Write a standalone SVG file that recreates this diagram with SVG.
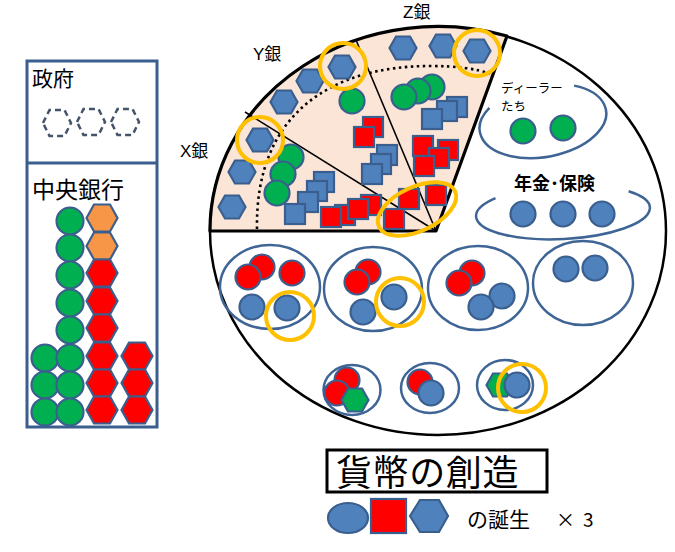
<svg xmlns="http://www.w3.org/2000/svg" xmlns:xlink="http://www.w3.org/1999/xlink" width="675" height="552" viewBox="0 0 675 552">
<style>
.sh{stroke:#3A5F8E;stroke-width:2.2}
.b{fill:#4F81BD}
.r{fill:#FF0000}
.g{fill:#00B050}
.o{fill:#F79646}
.ring{fill:none;stroke:#FFC000;stroke-width:4}
.grp{fill:none;stroke:#3E6595;stroke-width:2.5}
.jp{font-family:"Noto Sans CJK JP","Liberation Sans",sans-serif;fill:#000}
.lat{font-family:"Liberation Sans","Noto Sans CJK JP",sans-serif;fill:#000}
.div{stroke:#000;stroke-width:1.6;fill:none}
</style>
<defs>
<polygon id="hx" points="-13.5,0 -7,-11.5 7,-11.5 13.5,0 7,11.5 -7,11.5"/>
<polygon id="hxL" points="-15.5,0 -8,-13.5 8,-13.5 15.5,0 8,13.5 -8,13.5"/>
<polygon id="hxD" points="-14,0 -7.5,-13 7.5,-13 14,0 7.5,13 -7.5,13"/>
<rect id="sq" x="-10" y="-10" width="20" height="20"/>
<circle id="ci" r="12.5"/>
<circle id="ciL" r="13.5"/>
</defs>
<rect width="675" height="552" fill="#fff"/>

<g id="left-panel">
<rect x="27" y="61" width="130" height="366" fill="none" stroke="#3A5F8E" stroke-width="3"/>
<line x1="27" y1="163" x2="157" y2="163" stroke="#3A5F8E" stroke-width="3"/>
</g>
<g id="government">
<text class="jp" x="32" y="86" font-size="21">政府</text>
<g fill="none" stroke="#44546A" stroke-width="2.5" stroke-dasharray="6 4">
<use xlink:href="#hxD" x="57" y="123"/>
<use xlink:href="#hxD" x="91" y="122"/>
<use xlink:href="#hxD" x="125" y="122"/>
</g>
</g>
<g id="central-bank">
<text class="jp" x="32" y="198" font-size="23">中央銀行</text>
<g class="sh g">
<use xlink:href="#ciL" x="70" y="221"/>
<use xlink:href="#ciL" x="70" y="248"/>
<use xlink:href="#ciL" x="70" y="275"/>
<use xlink:href="#ciL" x="70" y="303"/>
<use xlink:href="#ciL" x="70" y="330"/>
<use xlink:href="#ciL" x="45" y="358"/>
<use xlink:href="#ciL" x="70" y="358"/>
<use xlink:href="#ciL" x="45" y="385"/>
<use xlink:href="#ciL" x="70" y="385"/>
<use xlink:href="#ciL" x="45" y="412"/>
<use xlink:href="#ciL" x="70" y="412"/>
</g>
<g class="sh">
<use class="o" xlink:href="#hxL" x="102" y="218"/>
<use class="o" xlink:href="#hxL" x="102" y="246"/>
<use class="r" xlink:href="#hxL" x="102" y="273"/>
<use class="r" xlink:href="#hxL" x="102" y="301"/>
<use class="r" xlink:href="#hxL" x="102" y="328"/>
<use class="r" xlink:href="#hxL" x="102" y="356"/>
<use class="r" xlink:href="#hxL" x="102" y="383"/>
<use class="r" xlink:href="#hxL" x="102" y="410"/>
<use class="r" xlink:href="#hxL" x="137" y="356"/>
<use class="r" xlink:href="#hxL" x="137" y="383"/>
<use class="r" xlink:href="#hxL" x="137" y="410"/>
</g>
</g>

<g id="economy">
<ellipse cx="438" cy="231" rx="228" ry="204" fill="#fff" stroke="#000" stroke-width="2.5"/>
</g>

<g id="bank-sector">
<path d="M436,231 L210,231 A228,204 0 0 1 507,36 Z" fill="#FBE5D6" stroke="#000" stroke-width="3.2" stroke-linejoin="round"/>
<line class="div" x1="245" y1="112" x2="436" y2="231"/>
<line class="div" x1="356" y1="40" x2="436" y2="231"/>
<path d="M257,229 C255,115 330,66 430,66 Q470,66 490,74" fill="none" stroke="#000" stroke-width="2.6" stroke-dasharray="2.5 3.5"/>
<text class="lat" x="403" y="18" font-size="17">Z銀</text>
<text class="lat" x="253" y="60" font-size="17">Y銀</text>
<text class="lat" x="180" y="157" font-size="17">X銀</text>

<g id="x-bank" class="sh">
<use class="b" xlink:href="#hx" x="260" y="140"/>
<use class="b" xlink:href="#hx" x="242" y="172"/>
<use class="b" xlink:href="#hx" x="232" y="207"/>
<use class="g" xlink:href="#ci" x="291" y="157"/>
<use class="g" xlink:href="#ci" x="283" y="174"/>
<use class="g" xlink:href="#ci" x="277" y="193"/>
<use class="b" xlink:href="#sq" x="324" y="182"/>
<use class="b" xlink:href="#sq" x="317" y="191"/>
<use class="b" xlink:href="#sq" x="308" y="202"/>
<use class="b" xlink:href="#sq" x="295" y="214"/>
<use class="r" xlink:href="#sq" x="345" y="215"/>
<use class="r" xlink:href="#sq" x="331" y="217"/>
<use class="r" xlink:href="#sq" x="371" y="205"/>
<use class="r" xlink:href="#sq" x="358" y="209"/>
</g>
<g id="y-bank" class="sh">
<use class="b" xlink:href="#hx" x="284" y="102"/>
<use class="b" xlink:href="#hx" x="310" y="81"/>
<use class="b" xlink:href="#hx" x="342" y="67"/>
<use class="g" xlink:href="#ci" x="352" y="101"/>
<use class="r" xlink:href="#sq" x="373" y="127"/>
<use class="r" xlink:href="#sq" x="364" y="137"/>
<use class="b" xlink:href="#sq" x="387" y="155"/>
<use class="b" xlink:href="#sq" x="381" y="164"/>
<use class="b" xlink:href="#sq" x="372" y="174"/>
</g>
<g id="z-bank" class="sh">
<use class="b" xlink:href="#hx" x="403" y="48"/>
<use class="b" xlink:href="#hx" x="443" y="46"/>
<use class="b" xlink:href="#hx" x="477" y="51"/>
<use class="g" xlink:href="#ci" x="432" y="87"/>
<use class="g" xlink:href="#ci" x="418" y="91"/>
<use class="g" xlink:href="#ci" x="404" y="97"/>
<use class="b" xlink:href="#sq" x="457" y="107"/>
<use class="b" xlink:href="#sq" x="447" y="111"/>
<use class="b" xlink:href="#sq" x="432" y="119"/>
<use class="r" xlink:href="#sq" x="448" y="150"/>
<use class="r" xlink:href="#sq" x="423" y="146"/>
<use class="r" xlink:href="#sq" x="439" y="158"/>
<use class="r" xlink:href="#sq" x="424" y="166"/>
<use class="r" xlink:href="#sq" x="409" y="199"/>
<use class="r" xlink:href="#sq" x="436" y="195"/>
<use class="r" xlink:href="#sq" x="394" y="219"/>
</g>
</g>

<g id="dealers">
<path class="grp" d="M574.1,85.6 A64,36 -10 1 1 489.4,107.9"/>
<text class="jp" x="501" y="93" font-size="12.5">ディーラー</text>
<text class="jp" x="501" y="111" font-size="12.5">たち</text>
<g class="sh g">
<use xlink:href="#ci" x="523" y="131"/>
<use xlink:href="#ci" x="563" y="128"/>
</g>
</g>

<g id="pension">
<path class="grp" d="M628.6,191.2 A87,27 -3 1 1 495.5,198.2"/>
<text class="jp" x="514" y="190" font-size="18" font-weight="bold">年金･保険</text>
<g class="sh b">
<use xlink:href="#ci" x="523" y="214"/>
<use xlink:href="#ci" x="563" y="214"/>
<use xlink:href="#ci" x="602" y="214"/>
</g>
</g>

<g id="group-1">
<ellipse class="grp" cx="270" cy="287" rx="50" ry="42"/>
<g class="sh">
<use class="r" xlink:href="#ci" x="262" y="267"/>
<use class="r" xlink:href="#ci" x="248" y="277"/>
<use class="r" xlink:href="#ci" x="292" y="273"/>
<use class="b" xlink:href="#ci" x="252" y="307"/>
<use class="b" xlink:href="#ci" x="287" y="308"/>
</g>
</g>
<g id="group-2">
<ellipse class="grp" cx="373" cy="289" rx="49" ry="42"/>
<g class="sh">
<use class="r" xlink:href="#ci" x="368" y="272"/>
<use class="r" xlink:href="#ci" x="357" y="282"/>
<use class="b" xlink:href="#ci" x="363" y="312"/>
<use class="b" xlink:href="#ci" x="394" y="297"/>
</g>
</g>
<g id="group-3">
<ellipse class="grp" cx="478" cy="288" rx="50" ry="42"/>
<g class="sh">
<use class="r" xlink:href="#ci" x="472" y="273"/>
<use class="r" xlink:href="#ci" x="459" y="283"/>
<use class="b" xlink:href="#ci" x="502" y="296"/>
<use class="b" xlink:href="#ci" x="481" y="307"/>
</g>
</g>
<g id="group-4">
<ellipse class="grp" cx="583" cy="283" rx="50" ry="42"/>
<g class="sh b">
<use xlink:href="#ci" x="566" y="269"/>
<use xlink:href="#ci" x="595" y="268"/>
</g>
</g>
<g id="group-5">
<ellipse class="grp" cx="352" cy="390" rx="28.5" ry="25"/>
<g class="sh">
<use class="r" xlink:href="#ci" x="347" y="380"/>
<use class="r" xlink:href="#ci" x="337" y="393"/>
<use class="g" xlink:href="#hx" x="355" y="400"/>
</g>
</g>
<g id="group-6">
<ellipse class="grp" cx="430" cy="388" rx="29" ry="25"/>
<g class="sh">
<use class="r" xlink:href="#ci" x="420" y="382"/>
<use class="b" xlink:href="#ci" x="431" y="393"/>
</g>
</g>
<g id="group-7">
<ellipse class="grp" cx="505" cy="385" rx="28" ry="25"/>
<g class="sh">
<use class="g" xlink:href="#hx" x="500" y="385"/>
<use class="b" xlink:href="#ci" x="517" y="385"/>
</g>
</g>

<g id="highlights">
<circle class="ring" cx="260" cy="140" r="23"/>
<circle class="ring" cx="343" cy="66" r="23"/>
<circle class="ring" cx="477" cy="53" r="23"/>
<ellipse class="ring" cx="417" cy="209" rx="42" ry="22" transform="rotate(-25 417 209)"/>
<circle class="ring" cx="290" cy="316" r="24"/>
<circle class="ring" cx="400" cy="302" r="24"/>
<circle class="ring" cx="522" cy="388" r="24"/>
</g>

<g id="legend">
<rect x="327" y="450" width="220" height="42" fill="#fff" stroke="#000" stroke-width="3"/>
<text class="jp" x="336" y="486" font-size="36" letter-spacing="0.6">貨幣の創造</text>
<ellipse class="sh b" cx="348" cy="518" rx="20" ry="15"/>
<rect class="sh r" x="371" y="499" width="35" height="34"/>
<polygon class="sh b" points="410,516 420,500 439,500 448,516 439,532 420,532"/>
<text class="jp" x="467" y="527" font-size="21">の誕生</text>
<text class="jp" x="556" y="527" font-size="19">×<tspan dx="8">3</tspan></text>
</g>
</svg>
